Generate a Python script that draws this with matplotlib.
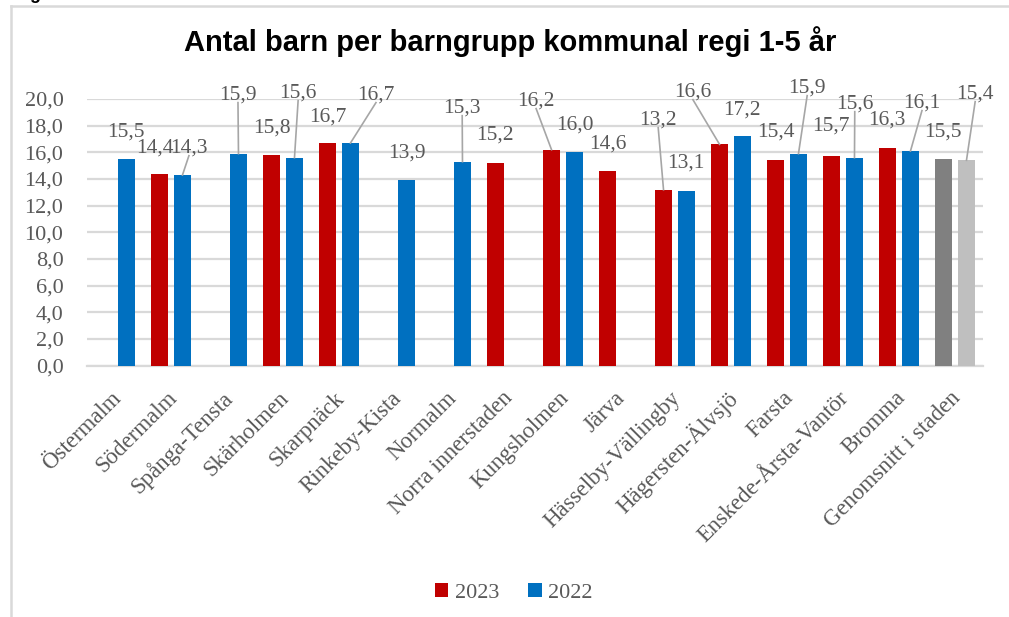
import numpy as np
import matplotlib
matplotlib.use("Agg")
import matplotlib.pyplot as plt
from matplotlib.patches import Patch
from matplotlib.lines import Line2D

# ---------------- data ----------------
categories = ["Östermalm", "Södermalm", "Spånga-Tensta", "Skärholmen", "Skarpnäck",
              "Rinkeby-Kista", "Normalm", "Norra innerstaden", "Kungsholmen", "Järva",
              "Hässelby-Vällingby", "Hägersten-Älvsjö", "Farsta", "Enskede-Årsta-Vantör",
              "Bromma", "Genomsnitt i staden"]
values_2023 = [np.nan, 14.4, np.nan, 15.8, 16.7, np.nan, np.nan, 15.2, 16.2, 14.6,
               13.2, 16.6, 15.4, 15.7, 16.3, 15.5]
values_2022 = [15.5, 14.3, 15.9, 15.6, 16.7, 13.9, 15.3, np.nan, 16.0, np.nan,
               13.1, 17.2, 15.9, 15.6, 16.1, 15.4]
series_names = ["2023", "2022"]
title = "Antal barn per barngrupp kommunal regi 1-5 år"

# ---------------- label layout (position of each value label, data coords) ----------------
# (label x offset from category centre, label y, leader line?)
label_pos_2023 = [None, (-0.29, 16.33, False), None, (-0.20, 17.83, False), (-0.20, 18.66, False),
                  None, None, (-0.21, 17.31, False), (-0.48, 19.86, True), (-0.20, 16.63, False),
                  (-0.30, 18.43, True), (-0.68, 20.53, True), (-0.20, 17.53, False),
                  (-0.21, 17.96, False), (-0.21, 18.43, False), (-0.21, 17.53, False)]
label_pos_2022 = [(0.196, 17.53, False), (0.32, 16.33, True), (0.196, 20.31, True), (0.27, 20.46, True),
                  (0.66, 20.31, True), (0.21, 15.96, False), (0.20, 19.33, True), None,
                  (0.21, 18.06, False), None, (0.20, 15.21, False), (0.20, 19.18, False),
                  (0.36, 20.83, True), (0.21, 19.63, True), (0.41, 19.71, True), (0.36, 20.38, True)]

# ---------------- style ----------------
RED, BLUE, GRAY, LGRAY = "#C00000", "#0070C0", "#808080", "#BFBFBF"
TXT = "#595959"
GRID = "#D9D9D9"
SERIF = ["Liberation Serif", "DejaVu Serif"]
SANS = ["Liberation Sans", "DejaVu Sans"]

W, H = 1009, 617
fig = plt.figure(figsize=(W / 100, H / 100), dpi=100)
ax = fig.add_axes([87 / W, 1 - 365.7 / H, (983 - 87) / W, (365.7 - 99) / H])

n = len(categories)
x = np.arange(n)
bw = 0.32
off = 0.205

cols_2023 = [RED] * (n - 1) + [GRAY]
cols_2022 = [BLUE] * (n - 1) + [LGRAY]
ax.bar(x - off, values_2023, bw, color=cols_2023, zorder=3)
ax.bar(x + off, values_2022, bw, color=cols_2022, zorder=3)

ax.set_xlim(-0.5, n - 0.5)
ax.set_ylim(0, 20)
ax.set_yticks(np.arange(0, 20.1, 2))
ax.set_yticklabels([f"{v:.1f}".replace(".", ",") for v in np.arange(0, 20.1, 2)],
                   family=SERIF, fontsize=16, color=TXT)
ax.tick_params(axis="y", length=0, pad=17)
ax.tick_params(axis="x", length=0, pad=21)
ax.set_xticks(x + 0.05)
ax.set_xticklabels(categories, rotation=45, ha="right", va="center", rotation_mode="anchor",
                   family=SERIF, fontsize=16.5, color=TXT)
ax.grid(axis="y", color=GRID, lw=1.6, zorder=0)
for s in ["top", "right", "left"]:
    ax.spines[s].set_visible(False)
ax.spines["bottom"].set_color(GRID)
ax.spines["bottom"].set_linewidth(1.6)


def fmt(v):
    return f"{v:.1f}".replace(".", ",")


def draw_labels(vals, pos, sign):
    for i, (v, p) in enumerate(zip(vals, pos)):
        if p is None or np.isnan(v):
            continue
        dx, ly, leader = p
        lx = i + dx
        ax.text(lx, ly, fmt(v), ha="center", va="center", family=SERIF, fontsize=15.5,
                color=TXT, clip_on=False, zorder=5)
        if leader:
            ax.plot([i + sign * off, lx], [v, ly - 0.58], color="#A6A6A6", lw=1.2,
                    clip_on=False, zorder=4)


draw_labels(values_2023, label_pos_2023, -1)
draw_labels(values_2022, label_pos_2022, +1)

# title
fig.text(510 / W, 1 - 42 / H, title, ha="center", va="center", family=SANS,
         weight="bold", fontsize=21, color="black")

# legend
handles = [Patch(facecolor=RED, label=series_names[0]), Patch(facecolor=BLUE, label=series_names[1])]
fig.legend(handles=handles, loc="center", bbox_to_anchor=(514 / W, 1 - 593 / H), ncol=2,
           frameon=False, prop={"family": SERIF, "size": 16}, labelcolor=TXT,
           handlelength=0.6, handleheight=0.6, handletextpad=0.3, columnspacing=1.3)

# chart frame (left and top edges visible)
fig.add_artist(Line2D([11 / W, 11 / W], [0, 1 - 6 / H], color=GRID, lw=1.8,
                      transform=fig.transFigure))
fig.add_artist(Line2D([11 / W, 1], [1 - 6 / H, 1 - 6 / H], color=GRID, lw=1.8,
                      transform=fig.transFigure))

# clipped caption text at very top (cut off by the image edge, as in the source)
fig.text(14 / W, 1 + 1.0 / H, "Figur 5:", ha="left", va="baseline", family=SANS,
         weight="bold", fontsize=13, color="black")

fig.savefig("out.png", dpi=100)
